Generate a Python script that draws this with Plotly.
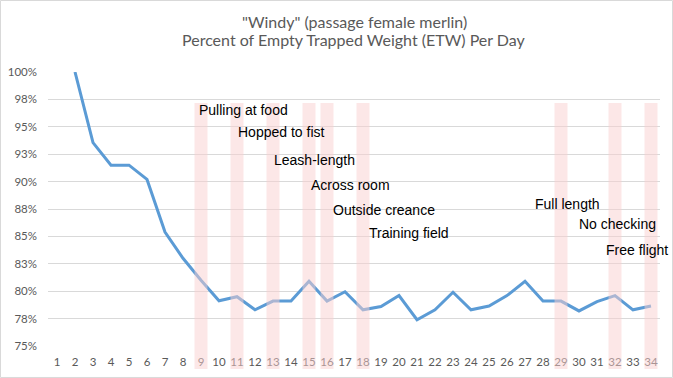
import plotly.graph_objects as go

days = list(range(1, 35))
pct_etw = [None, 100.0, 93.55, 91.5, 91.5, 90.2, 85.4, 83.0, 81.0, 79.13,
           79.5, 78.3, 79.1, 79.1, 80.9, 79.1, 79.95, 78.3, 78.6, 79.6,
           77.4, 78.3, 79.9, 78.3, 78.65, 79.6, 80.9, 79.1, 79.1, 78.2,
           79.05, 79.6, 78.3, 78.65]

milestone_days = [9, 11, 13, 15, 16, 18, 29, 32, 34]
milestone_labels = ["Pulling at food", "Hopped to fist", "Leash-length", "Across room",
                    "Outside creance", "Training field", "Full length", "No checking",
                    "Free flight"]

title_lines = ['"Windy" (passage female merlin)',
               "Percent of Empty Trapped Weight (ETW) Per Day"]

y_tickvals = [75, 77.5, 80, 82.5, 85, 87.5, 90, 92.5, 95, 97.5, 100]
y_ticktext = ["75%", "78%", "80%", "83%", "85%", "88%", "90%", "93%", "95%", "98%", "100%"]

# label anchor positions (left edge, vertical centre) in data units
label_x = [8.78, 10.94, 12.94, 15.0, 16.22, 18.22, 27.44, 29.89, 31.39]
label_y = [96.53, 94.53, 91.97, 89.69, 87.41, 85.31, 87.96, 86.13, 83.76]

X0, X1 = 0.5, 34.5

fig = go.Figure()
fig.add_trace(go.Scatter(x=days, y=pct_etw, mode="lines",
                         line=dict(color="#5B9BD5", width=3),
                         connectgaps=False, hoverinfo="x+y"))

def xp(v):
    return (v - X0) / (X1 - X0)

shapes = []
for d in milestone_days:
    shapes.append(dict(type="rect", xref="paper", yref="paper",
                       x0=xp(d - 0.36), x1=xp(d + 0.36), y0=-0.084, y1=0.887,
                       fillcolor="#F9CFCF", opacity=0.5, line=dict(width=0),
                       layer="above"))
# outer chart border
shapes.append(dict(type="rect", xref="paper", yref="paper",
                   x0=-0.0776, x1=1.0204, y0=-0.1149, y1=1.2609,
                   line=dict(color="#D9D9D9", width=1), fillcolor="rgba(0,0,0,0)",
                   layer="below"))

annotations = []
for t, ax_, ay_ in zip(milestone_labels, label_x, label_y):
    annotations.append(dict(x=ax_, y=ay_, xref="x", yref="y", text=t,
                            showarrow=False, xanchor="left", yanchor="middle",
                            font=dict(family="Liberation Sans, Arial", size=14, color="#000000")))

for t, ty in zip(title_lines, [1.1843, 1.1168]):
    annotations.append(dict(x=0.5, y=ty, xref="paper", yref="paper", text=t,
                            showarrow=False, xanchor="center", yanchor="middle",
                            font=dict(family="Lato, Open Sans", size=16, color="#595959")))

fig.update_layout(
    width=673, height=378,
    margin=dict(l=48, r=13, t=72, b=32),
    paper_bgcolor="white", plot_bgcolor="white",
    showlegend=False,
    xaxis=dict(range=[X0, X1], tickmode="array", tickvals=days,
               ticktext=[str(d) for d in days], showgrid=False, zeroline=False,
               showline=False, ticks="", automargin=False, ticklabelstandoff=7,
               tickfont=dict(family="Lato, Open Sans", size=11.5, color="#595959")),
    yaxis=dict(range=[75, 100], tickmode="array", tickvals=y_tickvals, ticktext=y_ticktext,
               showgrid=True, gridcolor="#D9D9D9", gridwidth=1, zeroline=False,
               showline=False, ticks="", ticklabelstandoff=10, automargin=False,
               tickfont=dict(family="Lato, Open Sans", size=11.5, color="#595959")),
    shapes=shapes, annotations=annotations,
)

fig.write_html("out.html", config={"displayModeBar": False},
               post_script="document.body.style.margin='0px';")
